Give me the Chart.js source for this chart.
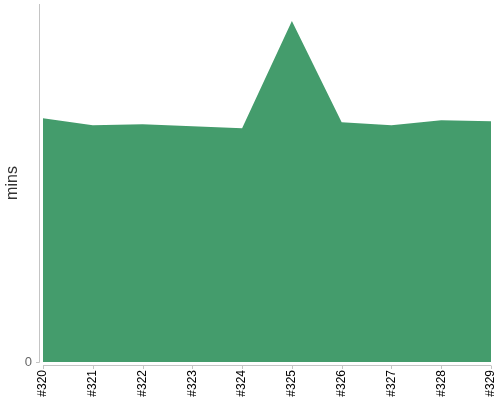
<!DOCTYPE html>
<html>
<head>
<meta charset="utf-8">
<script src="https://cdn.jsdelivr.net/npm/chart.js@4"></script>
<style>
  html, body { margin: 0; padding: 0; background: #fff; }
  #wrap { width: 500px; height: 400px; }
</style>
</head>
<body>
<div id="wrap"><canvas id="buildTimes"></canvas></div>
<script>
var builds = ["#320", "#321", "#322", "#323", "#324", "#325", "#326", "#327", "#328", "#329"]
var durations = [24.5, 23.8, 23.9, 23.7, 23.5, 34.3, 24.1, 23.8, 24.3, 24.2]
var yTicks = [0]
var yMax = 36

var green = 'rgb(68, 156, 108)'
var axisGray = '#c4c4c4'

// nvd3 style axis lines, sitting a few px away from the plot area
var axisLines = {
  id: 'axisLines',
  afterDraw: function(chart) {
    var c = chart.ctx, a = chart.chartArea
    var x = chart.scales.x, y = chart.scales.y
    c.save()
    c.strokeStyle = axisGray
    c.lineWidth = 1
    c.beginPath()
    // y axis
    c.moveTo(a.left - 3.5, a.top)
    c.lineTo(a.left - 3.5, a.bottom + 0.5)
    yTicks.forEach(function(v) {
      var py = Math.round(y.getPixelForValue(v)) + 0.5
      c.moveTo(a.left - 7, py)
      c.lineTo(a.left - 3.5, py)
    })
    // x axis
    c.moveTo(a.left, a.bottom + 3.5)
    c.lineTo(a.right, a.bottom + 3.5)
    builds.forEach(function(b, i) {
      var px = Math.round(x.getPixelForTick(i)) + 0.5
      c.moveTo(px, a.bottom + 3.5)
      c.lineTo(px, a.bottom + 7)
    })
    c.stroke()
    c.restore()
  }
}

var ctx = document.getElementById("buildTimes").getContext('2d')

var chartData = {
  type: 'line',
  data: {
    labels: builds,
    datasets: [{
      label: 'mins',
      data: durations,
      borderColor: green,
      backgroundColor: green,
      borderWidth: 0,
      fill: 'origin',
      tension: 0,
      pointRadius: 0
    }]
  },
  options: {
    responsive: true,
    maintainAspectRatio: false,
    animation: false,
    layout: { padding: { top: 4, right: 9, left: 0, bottom: 0 } },
    plugins: {
      legend: { display: false },
      tooltip: { enabled: false }
    },
    scales: {
      x: {
        offset: false,
        grid: { display: false, drawTicks: false },
        border: { display: false },
        afterFit: function(s) {
          s.height = 38
          s.paddingLeft = 0
          s.paddingRight = 0
        },
        ticks: {
          minRotation: 90,
          maxRotation: 90,
          autoSkip: false,
          padding: 8,
          color: '#000',
          font: { family: 'Arial, "Liberation Sans"', size: 12 }
        }
      },
      y: {
        min: 0,
        max: yMax,
        grid: { display: false, drawTicks: false },
        border: { display: false },
        afterFit: function(s) {
          s.width = 43
          s.paddingTop = 0
          s.paddingBottom = 0
        },
        afterBuildTicks: function(s) {
          s.ticks = yTicks.map(function(v) { return { value: v } })
        },
        ticks: {
          padding: 11,
          color: '#666',
          font: { family: 'Arial, "Liberation Sans"', size: 13 }
        },
        title: {
          display: true,
          text: 'mins',
          color: '#333',
          padding: { top: 3, bottom: 0 },
          font: { family: 'Arial, "Liberation Sans"', size: 16 }
        }
      }
    }
  },
  plugins: [axisLines]
}

var buildChart = new Chart(ctx, chartData)
</script>
</body>
</html>
